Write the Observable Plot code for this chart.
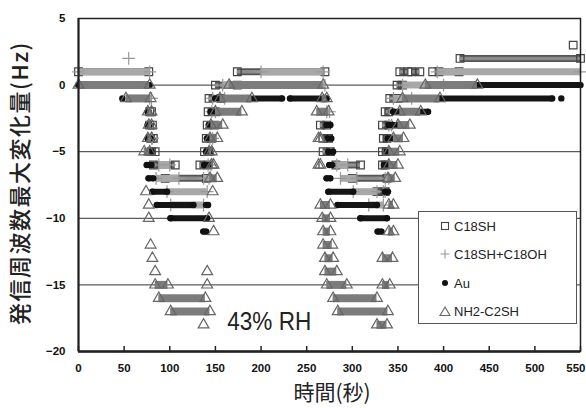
<!DOCTYPE html>
<html>
<head>
<meta charset="utf-8">
<script src="https://cdn.jsdelivr.net/npm/d3@7"></script>
<script src="https://cdn.jsdelivr.net/npm/@observablehq/plot@0.6"></script>
<style>
  html, body { margin: 0; padding: 0; background: #fff; }
  #wrap { position: relative; width: 586px; height: 408px; }
  #legend {
    position: absolute; left: 418px; top: 211px; width: 159px; height: 113px;
    background: #fff; border: 1px solid #555; box-sizing: border-box;
    font-family: "Liberation Sans", Arial, sans-serif; font-size: 13px; color: #222;
  }
  #legend .row { position: absolute; left: 20px; display: flex; align-items: center; height: 16px; }
  #legend svg { margin-right: 3px; }
</style>
</head>
<body>
<div id="wrap"></div>
<script>
// ---- data ----
const seriesNames = ["C18SH", "C18SH+C18OH", "Au", "NH2-C2SH"];
const xTicks = [0, 50, 100, 150, 200, 250, 300, 350, 400, 450, 500, 550];
const yTicks = [5, 0, -5, -10, -15, -20];
const gridLevels = [0, -5, -10, -15];
const annotations = [{label: "43% RH", t: 163, hz: -18.4}];

// runs: [frequency change (Hz), start time (s), end time (s)]
const runsC18SH = [
  [1, 0, 77],
  [-2, 78, 80], [-3, 78, 81], [-4, 79, 82], [-5, 80, 84],
  [-6, 82, 106], [-7, 95, 140],
  [-6, 133, 142], [-5, 138, 143], [-4, 140, 146], [-3, 141, 149], [-2, 142, 150], [-1, 143, 156], [0, 150, 174],
  [1, 174, 270],
  [-3, 265, 272], [-4, 268, 274], [-5, 268, 276],
  [-6, 282, 309], [-7, 300, 338], [-8, 327, 336],
  [-6, 333, 336], [-5, 333, 337], [-4, 334, 338], [-3, 333, 340], [-2, 336, 340], [-1, 341, 350], [0, 349, 355],
  [1, 352, 361], [1, 365, 374], [1, 388, 388], [1, 395, 417],
  [2, 418, 550], [3, 542, 542]
];
const runsC18SH_C18OH = [
  [1, 0, 78], [2, 55, 55],
  [-1, 78, 80], [-4, 80, 81], [-6, 88, 100], [-7, 85, 110], [-8, 97, 141], [-9, 101, 137],
  [-7, 137, 143], [-6, 142, 145], [-4, 144, 147], [-2, 146, 150], [-1, 147, 160], [0, 158, 270], [1, 200, 268],
  [-2, 272, 275], [-6, 283, 295], [-7, 287, 305], [-8, 301, 327], [-9, 318, 334],
  [-8, 334, 336], [-7, 336, 340], [-3, 340, 343], [-1, 345, 365], [0, 355, 400], [1, 393, 550]
];
const runsAu = [
  [0, 0, 78], [-1, 48, 48],
  [-2, 76, 77], [-3, 76, 78], [-4, 76, 79], [-5, 77, 80], [-6, 75, 80], [-7, 77, 82],
  [-8, 81, 97], [-9, 86, 126], [-10, 101, 141], [-11, 137, 140],
  [-9, 140, 142], [-6, 138, 143], [-5, 140, 144], [-4, 141, 146], [-3, 143, 150], [-2, 145, 160],
  [-1, 150, 223], [-1, 232, 272],
  [-3, 272, 276], [-4, 273, 277], [-5, 274, 279], [-6, 275, 278], [-7, 272, 276],
  [-8, 274, 301], [-9, 284, 327], [-10, 309, 338], [-11, 328, 332], [-8, 336, 339],
  [-6, 335, 340], [-5, 338, 342], [-4, 339, 343], [-3, 340, 350], [-2, 345, 383],
  [-1, 396, 519], [-1, 529, 529], [0, 437, 550]
];
const runsNH2 = [
  [0, 0, 78], [-1, 52, 79],
  [-2, 76, 80], [-3, 77, 80], [-4, 76, 80], [-5, 72, 78],
  [-8, 74, 74], [-9, 77, 77], [-10, 77, 77], [-12, 79, 79], [-13, 81, 81], [-14, 84, 84],
  [-15, 84, 98], [-16, 88, 139], [-17, 101, 144], [-18, 137, 137],
  [-15, 141, 141], [-14, 141, 141], [-11, 148, 148], [-10, 143, 143], [-8, 147, 147], [-7, 144, 152],
  [-6, 146, 148], [-5, 143, 146], [-4, 144, 152], [-3, 145, 158], [-2, 150, 179], [-1, 155, 190],
  [0, 165, 268], [-1, 267, 272],
  [-2, 261, 274], [-4, 263, 265], [-6, 263, 265], [-9, 265, 276], [-10, 267, 276], [-11, 268, 276],
  [-12, 268, 278], [-13, 270, 279], [-14, 270, 283], [-15, 272, 294], [-16, 279, 327], [-17, 284, 339], [-18, 327, 338],
  [-15, 333, 341], [-13, 333, 344], [-11, 340, 345], [-9, 340, 345], [-7, 339, 347], [-6, 340, 350],
  [-5, 340, 352], [-4, 345, 356], [-3, 350, 363], [-2, 352, 375], [-1, 355, 396], [0, 380, 437]
];

// ---- styles ----
const styles = [
  {runs: runsC18SH, band: "#555", inner: "#8c8c8c", width: 7, cap: "butt", symbol: "square", r: 4.3, stroke: "#444", fill: "none"},
  {runs: runsC18SH_C18OH, band: "#a8a8a8", inner: null, width: 7, cap: "butt", symbol: "plus", r: 4.2, stroke: "#999", fill: "none"},
  {runs: runsAu, band: "#151515", inner: null, width: 6, cap: "round", symbol: "circle", r: 3.2, stroke: "none", fill: "#111"},
  {runs: runsNH2, band: "#7c7c7c", inner: null, width: 8, cap: "butt", symbol: "triangle", r: 4, stroke: "#666", fill: "none"}
];

const marks = [];
marks.push(Plot.ruleY(gridLevels, {stroke: "#333", strokeWidth: 1}));
styles.forEach((s, i) => {
  const rows = s.runs.map(([hz, t0, t1]) => ({series: seriesNames[i], hz, t0, t1}));
  const long = rows.filter(d => d.t1 > d.t0);
  const ends = rows.flatMap(d => d.t1 > d.t0 ? [{t: d.t0, hz: d.hz}, {t: d.t1, hz: d.hz}] : [{t: d.t0, hz: d.hz}]);
  marks.push(Plot.ruleY(long, {y: "hz", x1: "t0", x2: "t1", stroke: s.band, strokeWidth: s.width, strokeLinecap: s.cap}));
  if (s.inner) marks.push(Plot.ruleY(long, {y: "hz", x1: "t0", x2: "t1", stroke: s.inner, strokeWidth: 3.5}));
  marks.push(Plot.dot(ends, {x: "t", y: "hz", symbol: s.symbol, r: s.r, stroke: s.stroke, fill: s.fill, strokeWidth: 1.2}));
});
marks.push(Plot.text(annotations, {x: "t", y: "hz", text: "label", textAnchor: "start", lineAnchor: "bottom",
  fontSize: 26, fontFamily: "'Liberation Sans Narrow', 'Liberation Sans', Arial, sans-serif", fill: "#222"}));
marks.push(Plot.ruleX(xTicks, {stroke: "#222", strokeWidth: 1.5, insetTop: 328}));
marks.push(Plot.frame({stroke: "#222", strokeWidth: 1.5}));
marks.push(Plot.ruleY([-20], {stroke: "#222", strokeWidth: 2.5}));
marks.push(Plot.ruleX([0], {stroke: "#222", strokeWidth: 2}));
marks.push(Plot.axisX({ticks: xTicks, tickSize: 0, tickPadding: 12, fontSize: 11.5, fontWeight: "bold", label: null}));
marks.push(Plot.axisY({ticks: yTicks, tickSize: 0, tickPadding: 13, fontSize: 11.5, fontWeight: "bold", label: null}));

const chart = Plot.plot({
  width: 586, height: 408,
  marginLeft: 78, marginRight: 6, marginTop: 18, marginBottom: 57,
  style: {fontFamily: "'Liberation Sans', Arial, sans-serif", color: "#111", background: "#fff"},
  x: {domain: [0, 550]},
  y: {domain: [-20, 5]},
  marks
});

// axis titles
const svg = d3.select(chart);
svg.append("text").text("時間(秒)")
  .attr("x", 332).attr("y", 400).attr("text-anchor", "middle")
  .attr("font-family", "'Noto Sans CJK JP', sans-serif").attr("font-size", 21).attr("fill", "#222");
svg.append("text").text("発信周波数最大変化量(Hz)")
  .attr("transform", "translate(28,183) rotate(-90)").attr("text-anchor", "middle")
  .attr("font-family", "'Noto Sans CJK JP', sans-serif").attr("font-size", 22).attr("font-weight", 500)
  .attr("letter-spacing", 1.5).attr("fill", "#222");
svg.selectAll("text").filter(function() { return this.textContent === "43% RH"; })
  .attr("textLength", 84).attr("lengthAdjust", "spacingAndGlyphs");
// keep the last x tick label inside the picture, as in the reference
svg.selectAll("text").filter(function() { return this.textContent === "550"; })
  .attr("text-anchor", "end").attr("dx", 5);

const wrap = document.getElementById("wrap");
wrap.appendChild(chart);

// legend
const legend = document.createElement("div");
legend.id = "legend";
const symSvg = [
  '<svg width="12" height="12"><rect x="2.5" y="2.5" width="7" height="7" fill="none" stroke="#444" stroke-width="1.1"/></svg>',
  '<svg width="12" height="12"><path d="M6 1.5V10.5M1.5 6H10.5" stroke="#999" stroke-width="1.1"/></svg>',
  '<svg width="12" height="12"><circle cx="6" cy="6" r="3" fill="#111"/></svg>',
  '<svg width="12" height="12"><path d="M6 2L11 10.5H1Z" fill="none" stroke="#666" stroke-width="1.1"/></svg>'
];
const rowTops = [6, 34, 63, 91];
seriesNames.forEach((name, i) => {
  const row = document.createElement("div");
  row.className = "row";
  row.style.top = rowTops[i] + "px";
  row.innerHTML = symSvg[i] + "<span>" + name + "</span>";
  legend.appendChild(row);
});
wrap.appendChild(legend);
</script>
</body>
</html>
